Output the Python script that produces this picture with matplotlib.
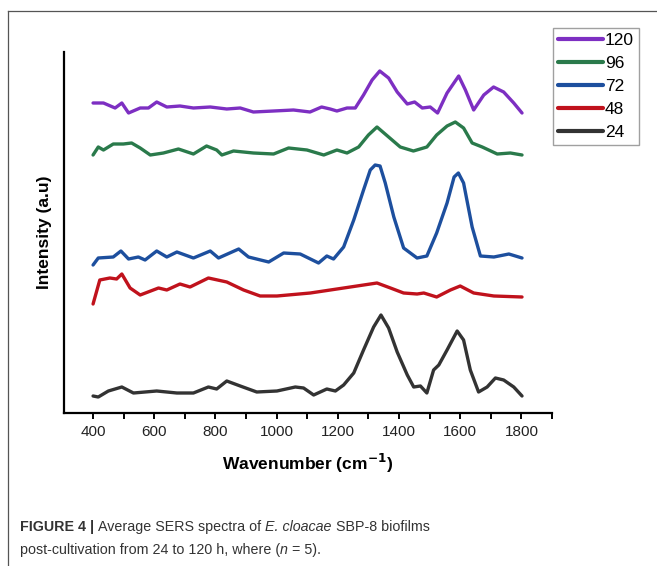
import matplotlib
matplotlib.use("Agg")
import matplotlib.pyplot as plt
from matplotlib.lines import Line2D
from matplotlib.ticker import MultipleLocator

# ---- data (intensity in arbitrary units, offset stacked) ----
w120 = [400,434,472,494,516,554,581,608,641,684,728,783,837,881,924,990,1055,1109,1147,1175,1197,1230,1257,1284,1312,1337,1366,1394,1427,1451,1476,1502,1526,1557,1595,1617,1644,1677,1709,1742,1775,1802]
i120 = [310,310,305,310,300,305,305,311,306,307,305,306,304,305,301,302,303,301,306,304,302,305,305,318,333,342,335,321,309,311,305,306,300,320,337,323,303,318,326,321,310,300]

w96 = [400,417,434,466,499,526,554,587,630,679,728,771,804,821,859,924,990,1039,1099,1154,1197,1230,1268,1300,1328,1366,1404,1447,1491,1523,1557,1584,1611,1639,1672,1721,1764,1802]
i96 = [258,266,263,269,269,270,265,258,260,264,259,267,263,258,262,260,259,265,263,258,263,260,266,278,286,276,266,262,266,278,287,291,285,270,266,259,260,258]

w72 = [400,417,466,491,516,548,570,608,641,674,728,783,810,876,908,974,1023,1077,1137,1164,1186,1219,1252,1284,1306,1322,1338,1355,1383,1415,1459,1491,1523,1557,1580,1594,1611,1639,1666,1710,1759,1802]
i72 = [148,155,156,162,154,156,153,162,156,161,155,162,155,164,156,151,160,159,150,157,154,166,193,223,243,248,247,230,196,165,155,157,180,210,236,240,230,186,157,156,159,155]

w48 = [400,422,455,477,494,521,554,614,641,684,717,777,837,892,946,1001,1110,1219,1328,1372,1415,1459,1481,1523,1568,1600,1644,1710,1802]
i48 = [109,133,135,134,139,125,118,125,123,129,126,135,131,123,117,117,120,125,130,125,120,119,120,116,123,127,120,117,116]

w24 = [400,417,450,494,532,608,674,728,777,804,837,881,935,1001,1061,1088,1121,1164,1192,1219,1252,1284,1317,1341,1366,1394,1427,1448,1470,1491,1513,1530,1557,1590,1611,1633,1660,1688,1715,1742,1775,1802]
i24 = [17,16,22,26,20,22,20,20,26,24,32,27,21,22,26,25,18,24,22,28,40,63,86,98,85,61,38,26,27,20,43,48,63,82,73,43,21,26,35,33,26,17]

labels = ["120", "96", "72", "48", "24"]
colors = ["#7d2fc2", "#2a7a4b", "#1d4f9e", "#c0121c", "#333333"]
xticks = [400, 600, 800, 1000, 1200, 1400, 1600, 1800]

series = [(w120, i120), (w96, i96), (w72, i72), (w48, i48), (w24, i24)]

W, H = 657, 566
fig = plt.figure(figsize=(W / 100, H / 100), dpi=100)
fig.patch.set_facecolor("white")

ax = fig.add_axes([64 / W, 1 - 413 / H, (552 - 64) / W, (413 - 52) / H])
for (wx, iy), lab, c in zip(series, labels, colors):
    ax.plot(wx, iy, color=c, lw=2.4, label=lab, solid_capstyle="round", solid_joinstyle="round")

ax.set_xlim(305, 1900)
ax.set_ylim(0, 361)
ax.set_xticks(xticks)
ax.set_xticklabels([str(t) for t in xticks])
ax.xaxis.set_minor_locator(MultipleLocator(100))
ax.set_yticks([])
for s in ["top", "right"]:
    ax.spines[s].set_visible(False)
for s in ["left", "bottom"]:
    ax.spines[s].set_linewidth(1.6)
    ax.spines[s].set_color("black")
ax.tick_params(axis="x", which="major", length=4, width=1.4, direction="out",
               labelsize=11, pad=5, labelcolor="#222222")
ax.tick_params(axis="x", which="minor", length=4, width=1.4, direction="out")
for lbl in ax.get_xticklabels():
    lbl.set_fontfamily("Liberation Sans")

ax.set_xlabel("Wavenumber (cm$^{\\mathbf{-1}}$)", fontsize=12.5, fontweight="bold",
              family="Liberation Sans", labelpad=9)
ax.set_ylabel("Intensity (a.u)", fontsize=12.5, fontweight="bold",
              family="Liberation Sans", labelpad=9)

leg = ax.legend(loc="upper left", bbox_to_anchor=(553 / W, 1 - 28 / H),
                bbox_transform=fig.transFigure, borderaxespad=0,
                prop={"family": "Liberation Sans", "size": 12.5},
                handlelength=2.6, handletextpad=0.1, labelspacing=0.45,
                borderpad=0.3, fancybox=False, frameon=True)
leg.get_frame().set_edgecolor("#888888")
leg.get_frame().set_linewidth(1.0)
for lh in leg.get_lines():
    lh.set_linewidth(3.0)

# outer frame (top & left)
fig.add_artist(Line2D([8 / W, 8 / W], [0, 1 - 11 / H], transform=fig.transFigure,
                      color="#555555", lw=0.9))
fig.add_artist(Line2D([8 / W, 1], [1 - 11 / H, 1 - 11 / H], transform=fig.transFigure,
                      color="#555555", lw=0.9))

# caption with mixed styles
fam = ["Liberation Sans Narrow", "Liberation Sans"]
cap_col = "#333333"
fig.canvas.draw()
renderer = fig.canvas.get_renderer()


def draw_runs(x_px, y_px, runs):
    x = x_px
    for txt, weight, style in runs:
        t = fig.text(x / W, 1 - y_px / H, txt, fontsize=10.3, family=fam,
                     fontweight=weight, fontstyle=style, color=cap_col,
                     va="baseline", ha="left")
        bb = t.get_window_extent(renderer=renderer)
        x += bb.width


draw_runs(20, 531, [("FIGURE 4 | ", "bold", "normal"),
                    ("Average SERS spectra of ", "normal", "normal"),
                    ("E. cloacae", "normal", "italic"),
                    (" SBP-8 biofilms", "normal", "normal")])
draw_runs(20, 554, [("post-cultivation from 24 to 120 h, where (", "normal", "normal"),
                    ("n", "normal", "italic"),
                    (" = 5).", "normal", "normal")])

fig.savefig("out.png", dpi=100, facecolor="white")
